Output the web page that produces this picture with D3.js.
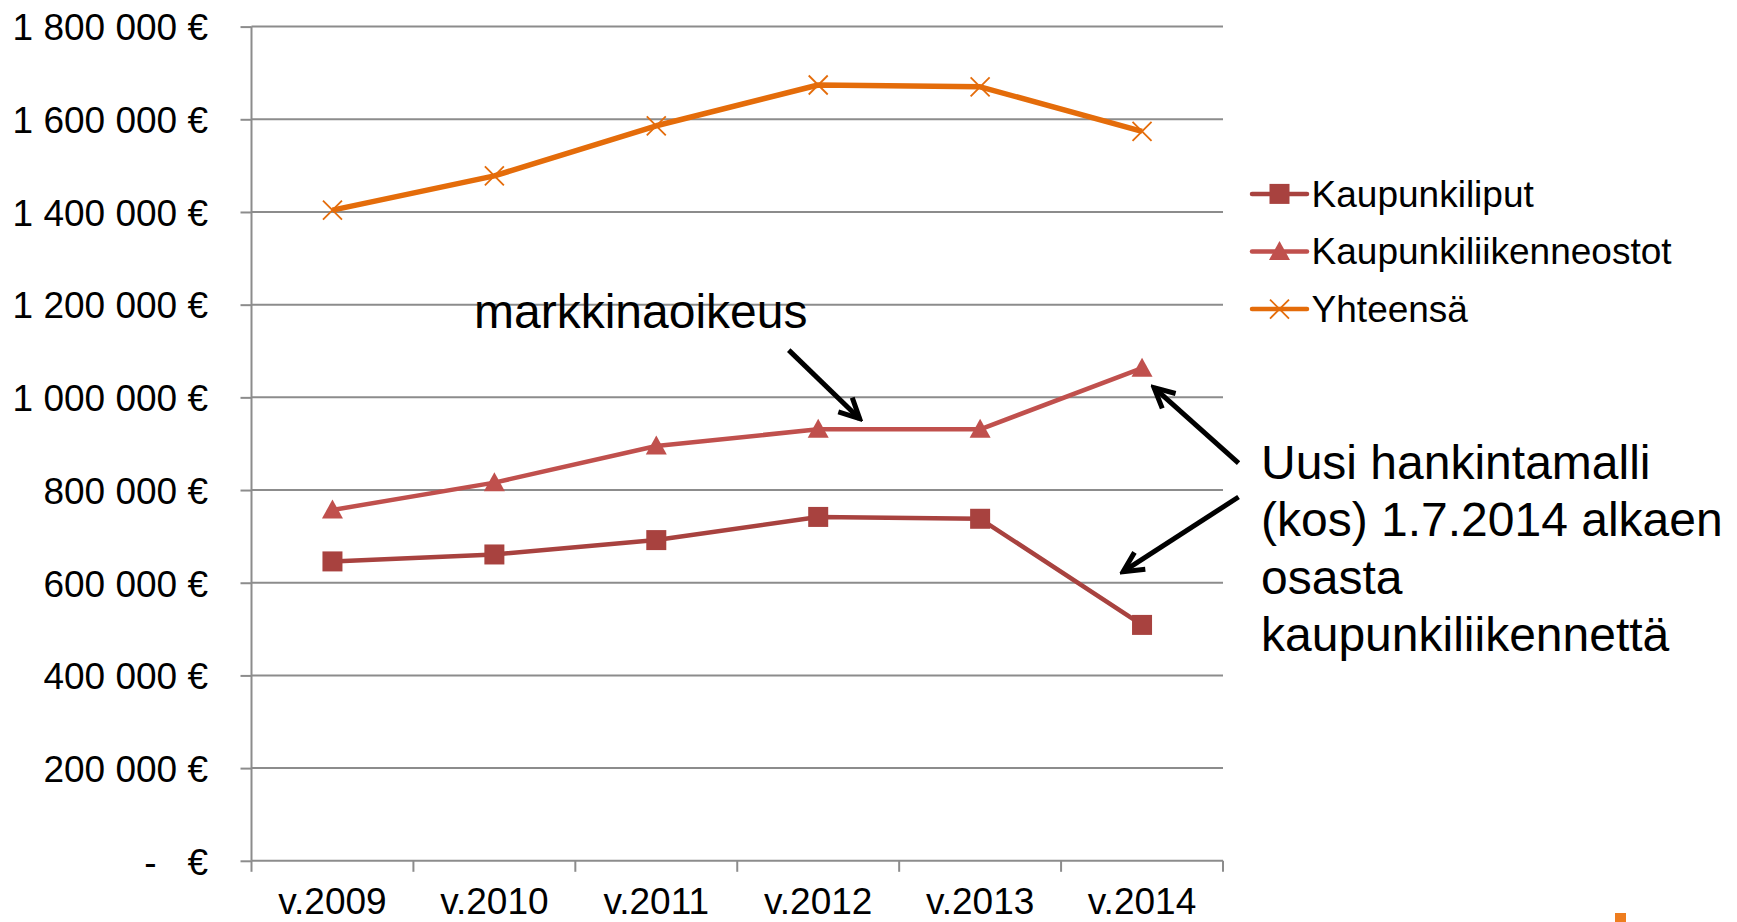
<!DOCTYPE html>
<html>
<head>
<meta charset="utf-8">
<script src="https://cdn.jsdelivr.net/npm/d3@7"></script>
<style>
  body { margin: 0; background: #fff; }
  svg { display: block; }
</style>
</head>
<body>
<div id="chart"></div>
<script>
const years = ["v.2009", "v.2010", "v.2011", "v.2012", "v.2013", "v.2014"];
const kaupunkiliput = [646000, 661000, 692000, 742000, 738000, 509000];
const liikenneostot = [757000, 816000, 895000, 931000, 931000, 1063000];
const yhteensa = [1404000, 1478000, 1586000, 1674000, 1670000, 1574000];
const yTicks = [0, 200000, 400000, 600000, 800000, 1000000, 1200000, 1400000, 1600000, 1800000];
const seriesNames = ["Kaupunkiliput", "Kaupunkiliikenneostot", "Yhteensä"];

// annotation arrows in data units: [category index, value]
const arrowFrom = [[2.818, 1102000], [5.596, 858000], [5.596, 785000]];
const arrowTo = [[3.256, 954000], [5.074, 1021000], [4.883, 624000]];
const noteTop = "markkinaoikeus";
const noteRight = ["Uusi hankintamalli", "(kos) 1.7.2014 alkaen", "osasta", "kaupunkiliikennettä"];

const width = 1737, height = 922;
const margin = { top: 26.6, right: 514, bottom: 61.2, left: 251.5 };
const font = "'Liberation Sans', Arial, sans-serif";
const gridColor = "#8c8c8c";

const series = [
  { name: seriesNames[0], values: kaupunkiliput, color: "#a8423f", width: 4.5, marker: "square" },
  { name: seriesNames[1], values: liikenneostot, color: "#c0504d", width: 4.5, marker: "triangle" },
  { name: seriesNames[2], values: yhteensa, color: "#e46c0a", width: 5.5, marker: "x" }
];

const svg = d3.select("#chart").append("svg")
  .attr("width", width)
  .attr("height", height)
  .style("font-family", font);

const x = d3.scaleBand(years, [margin.left, width - margin.right]);
const y = d3.scaleLinear([0, 1800000], [height - margin.bottom, margin.top]);
const xi = d3.scaleLinear([-0.5, years.length - 0.5], x.range());
const cx = d => x(d) + x.bandwidth() / 2;

const fmt = d3.formatLocale({ decimal: ",", thousands: " ", grouping: [3], currency: ["", ""] }).format(",d");
const yLabel = v => v === 0 ? "-   €" : fmt(v) + " €";

// gridlines
svg.append("g").selectAll("line").data(yTicks).join("line")
  .attr("x1", margin.left).attr("x2", width - margin.right)
  .attr("y1", d => y(d)).attr("y2", d => y(d))
  .attr("stroke", gridColor).attr("stroke-width", 2);

// y axis
const yAxis = svg.append("g")
  .attr("transform", `translate(${margin.left},0)`)
  .call(d3.axisLeft(y).tickValues(yTicks).tickSize(11).tickPadding(32.5).tickFormat(yLabel));
yAxis.select(".domain").remove();
yAxis.selectAll(".tick line").attr("stroke", gridColor).attr("stroke-width", 2);
yAxis.selectAll(".tick text")
  .attr("fill", "#000").attr("font-size", 37).attr("font-family", font)
  .attr("dy", "0.36em").style("white-space", "pre");
yAxis.append("line")
  .attr("y1", y(1800000)).attr("y2", y(0))
  .attr("stroke", gridColor).attr("stroke-width", 2);

// x axis
const xAxis = svg.append("g")
  .attr("transform", `translate(0,${y(0)})`)
  .call(d3.axisBottom(x).tickSize(0).tickPadding(26.5));
xAxis.select(".domain").remove();
xAxis.selectAll(".tick text").attr("fill", "#000").attr("font-size", 37).attr("font-family", font);
xAxis.selectAll("line.sep")
  .data(years.map(d => x(d)).concat([x.range()[1]]))
  .join("line").attr("class", "sep")
  .attr("x1", d => d).attr("x2", d => d)
  .attr("y1", 0).attr("y2", 11)
  .attr("stroke", gridColor).attr("stroke-width", 2);

// marker shapes
function drawMarker(g, type, color) {
  if (type === "square") {
    g.append("rect").attr("x", -10).attr("y", -10).attr("width", 20).attr("height", 20).attr("fill", color);
  } else if (type === "triangle") {
    g.append("path").attr("d", "M0,-10.5L10.5,8.5L-10.5,8.5Z").attr("fill", color);
  } else {
    g.append("path").attr("d", "M-9.5,-9.5L9.5,9.5M-9.5,9.5L9.5,-9.5")
      .attr("stroke", color).attr("stroke-width", 1.8).attr("fill", "none");
  }
}

const line = d3.line().x((d, i) => cx(years[i])).y(d => y(d));

series.forEach(s => {
  const g = svg.append("g");
  g.append("path")
    .attr("d", line(s.values))
    .attr("fill", "none")
    .attr("stroke", s.color)
    .attr("stroke-width", s.width)
    .attr("stroke-linejoin", "round");
  g.selectAll("g.pt").data(s.values).join("g")
    .attr("class", "pt")
    .attr("transform", (d, i) => `translate(${cx(years[i])},${y(d)})`)
    .each(function () { drawMarker(d3.select(this), s.marker, s.color); });
});

// legend
const legendX = 1252, legendTop = 193.9, legendGap = 57.6, legendLine = 55;
const legend = svg.append("g");
series.forEach((s, i) => {
  const row = legend.append("g").attr("transform", `translate(${legendX},${legendTop + i * legendGap})`);
  row.append("line").attr("x1", 0).attr("x2", legendLine)
    .attr("stroke", s.color).attr("stroke-width", 4.5).attr("stroke-linecap", "round");
  drawMarker(row.append("g").attr("transform", `translate(${legendLine / 2},0)`), s.marker, s.color);
  row.append("text")
    .attr("x", legendLine + 4.6).attr("dy", "0.35em")
    .attr("font-size", 37).attr("fill", "#000")
    .text(s.name);
});

// annotations
svg.append("defs").append("marker")
  .attr("id", "head")
  .attr("markerUnits", "userSpaceOnUse")
  .attr("viewBox", "-24 -14 28 28")
  .attr("markerWidth", 28).attr("markerHeight", 28)
  .attr("refX", 0).attr("refY", 0)
  .attr("orient", "auto")
  .append("path")
  .attr("d", "M-20,-10L0,0L-20,10")
  .attr("fill", "none").attr("stroke", "#000").attr("stroke-width", 5)
  .attr("stroke-linejoin", "miter");

svg.append("g").selectAll("line").data(arrowFrom).join("line")
  .attr("x1", d => xi(d[0])).attr("y1", d => y(d[1]))
  .attr("x2", (d, i) => xi(arrowTo[i][0])).attr("y2", (d, i) => y(arrowTo[i][1]))
  .attr("stroke", "#000").attr("stroke-width", 5)
  .attr("marker-end", "url(#head)");

svg.append("text")
  .attr("x", 474).attr("y", 328)
  .attr("font-size", 48).attr("fill", "#000")
  .text(noteTop);

svg.append("g").selectAll("text").data(noteRight).join("text")
  .attr("x", 1261).attr("y", (d, i) => 478.6 + i * 57.6)
  .attr("font-size", 48).attr("fill", "#000")
  .text(d => d);

// slide logo fragment at the bottom edge
svg.append("rect")
  .attr("x", 1615).attr("y", 913).attr("width", 11).attr("height", 9)
  .attr("fill", "#ee7d1f");
</script>
</body>
</html>
